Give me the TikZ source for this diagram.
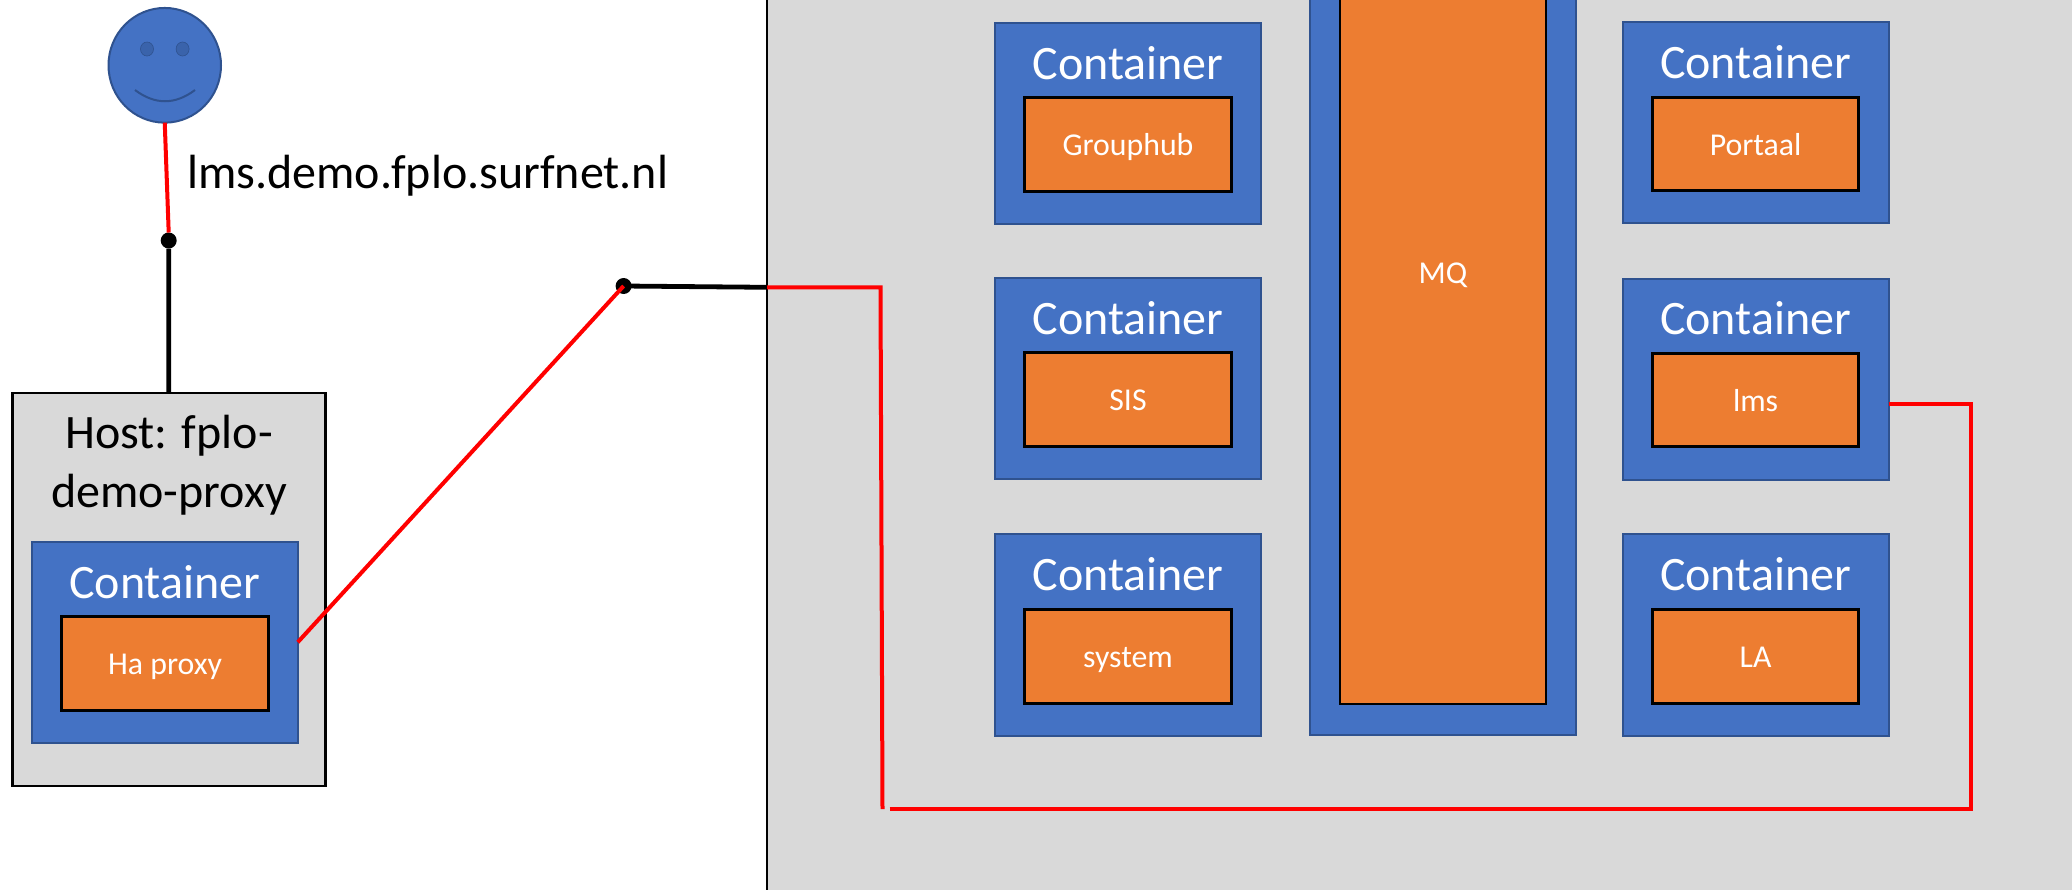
\documentclass[tikz,border=0pt]{standalone}
\usepackage{fontspec}
\setmainfont{Carlito}
\usetikzlibrary{shapes.geometric}
\definecolor{panelgray}{HTML}{D9D9D9}
\definecolor{contblue}{HTML}{4472C4}
\definecolor{contedge}{HTML}{2F528F}
\definecolor{procorange}{HTML}{ED7D31}
\definecolor{eyeblue}{HTML}{3A63AB}
\tikzset{
  x=0.5pt,y=-0.5pt,
  panelbox/.style={draw=black,line width=1.25pt,fill=panelgray,inner sep=0pt,outer sep=0pt},
  contbox/.style={draw=contedge,line width=1pt,fill=contblue,inner sep=0pt,outer sep=0pt,minimum width=133pt,minimum height=100.6pt},
  procbox/.style={draw=black,line width=1.4pt,fill=procorange,text=white,inner sep=0pt,outer sep=0pt,minimum width=103.2pt,minimum height=46.8pt,font=\fontsize{15.9pt}{18pt}\selectfont,text height=11pt,text depth=0pt},
  conttitle/.style={text=white,anchor=base,yshift=-28.2pt,inner sep=0pt,font=\fontsize{24pt}{28pt}\selectfont},
  bigtext/.style={text=black,inner sep=0pt,font=\fontsize{24pt}{29.6pt}\selectfont},
  dotnode/.style={circle,fill=black,inner sep=0pt,minimum size=8pt,outer sep=0pt},
  redwire/.style={draw=red,line width=2pt},
  blackwire/.style={draw=black,line width=2.4pt},
}
\begin{document}
\begin{tikzpicture}
\useasboundingbox (0,0) rectangle (2072,889);
\clip (0,0) rectangle (2072,889);
\fill[white] (0,0) rectangle (2072,889);
% large panel (runs off the picture)
\node[panelbox,anchor=north west,minimum width=700pt,minimum height=480pt] (panel) at (767,-20) {};
% user face
\node[ellipse,draw=contedge,line width=1pt,fill=contblue,inner sep=0pt,outer sep=0pt,minimum width=56.25pt,minimum height=57.35pt] (face) at (164.75,65.3) {};
\node[ellipse,fill=eyeblue,draw=contedge,line width=.3pt,inner sep=0pt,minimum width=6.5pt,minimum height=7pt] (eyeL) at (147,49) {};
\node[ellipse,fill=eyeblue,draw=contedge,line width=.3pt,inner sep=0pt,minimum width=6.5pt,minimum height=7pt] (eyeR) at (182.6,49) {};
\coordinate (smileL) at (135,90);
\coordinate (smileR) at (195,90);
\draw[contedge,line width=1pt] (smileL) .. controls (155,105) and (175,105) .. (smileR);
% label
\node[bigtext,anchor=base west] (url) at (186.8,188.5) {lms.demo.fplo.surfnet.nl};
% host
\node[panelbox,minimum width=156.5pt,minimum height=196.3pt] (host) at (168.75,589.5) {};
\node[bigtext,align=center] (hosttitle) at (169,465.5) {Host: fplo-\\demo-proxy};
\node[contbox] (hac) at (164.8,642.2) {};
\node[conttitle] (hat) at (hac.north) {Container};
\node[procbox] (hap) at (165,663.3) {Ha proxy};
% connection points
\node[dotnode] (dotA) at (168.7,240.5) {};
\node[dotnode] (dotB) at (623.6,286) {};
\coordinate (panelin) at (767,287.3);
\coordinate (bendA) at (880.5,287.3);
\coordinate (bendB) at (882.5,809);
\coordinate (bendC) at (889.5,809);
\coordinate (bendD) at (1971,809);
\coordinate (bendE) at (1971,403.8);
\coordinate (lmsout) at (1889,403.8);
% left column
\node[contbox] (c1) at (1128,123.2) {};
\node[conttitle] (t1) at (c1.north) {Container};
\node[procbox] (p1) at (1128,144.3) {Grouphub};
\node[contbox] (c2) at (1128,378.6) {};
\node[conttitle] (t2) at (c2.north) {Container};
\node[procbox] (p2) at (1128,399.5) {SIS};
\node[contbox] (c3) at (1128,635) {};
\node[conttitle] (t3) at (c3.north) {Container};
\node[procbox] (p3) at (1128,656.3) {system};
% MQ
\node[contbox,minimum height=467.5pt] (cm) at (1443,267.8) {};
\node[procbox,minimum height=431.5pt,line width=1pt] (pm) at (1443,272) {MQ};
% right column
\node[contbox] (c4) at (1755.6,122.7) {};
\node[conttitle] (t4) at (c4.north) {Container};
\node[procbox] (p4) at (1755.6,144) {Portaal};
\node[contbox] (c5) at (1755.6,379.1) {};
\node[conttitle] (t5) at (c5.north) {Container};
\node[procbox] (p5) at (1755.6,400) {lms};
\node[contbox] (c6) at (1755.6,635) {};
\node[conttitle] (t6) at (c6.north) {Container};
\node[procbox] (p6) at (1755.6,656.3) {LA};
% connectors
\draw[redwire] (face.south) -- (dotA.north);
\draw[blackwire] (dotA) -- (host.north);
\draw[blackwire] (dotB.center) -- (panelin);
\draw[redwire] (hac.east) -- (dotB.center);
\draw[redwire] (panelin) -- (bendA) -- (bendB);
\draw[redwire] (bendC) -- (bendD) -- (bendE) -- (lmsout);
\end{tikzpicture}
\end{document}
